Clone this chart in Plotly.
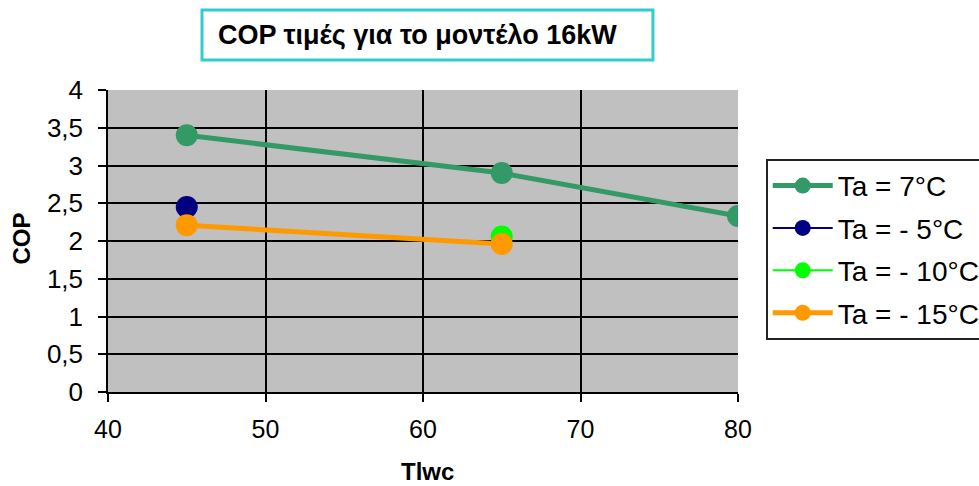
import plotly.graph_objects as go

# Data
series_names = ["Ta = 7°C", "Ta = - 5°C", "Ta = - 10°C", "Ta = - 15°C"]
x_7 = [45, 65, 80]
y_7 = [3.40, 2.90, 2.33]
x_m5 = [45]
y_m5 = [2.45]
x_m10 = [65]
y_m10 = [2.06]
x_m15 = [45, 65]
y_m15 = [2.21, 1.96]
title_text = "COP τιμές για το μοντέλο 16kW"
x_title = "Tlwc"
y_title = "COP"

FONT = "Arial, Liberation Sans, sans-serif"

fig = go.Figure()
specs = [
    (x_7, y_7, "#339966", 5, 22),
    (x_m5, y_m5, "#000080", 2, 22),
    (x_m10, y_m10, "#00FF00", 2, 22),
    (x_m15, y_m15, "#FF9900", 5, 22),
]
for name, (xs, ys, col, lw, ms) in zip(series_names, specs):
    fig.add_trace(go.Scatter(
        x=xs, y=ys, name=name, mode="lines+markers",
        line=dict(color=col, width=lw),
        marker=dict(color=col, size=ms),
        legendgroup=name,
    ))

fig.update_layout(
    width=979, height=486,
    margin=dict(l=108, r=241, t=90, b=94, autoexpand=False),
    paper_bgcolor="white",
    plot_bgcolor="#C0C0C0",
    separators=", ",
    font=dict(family=FONT, size=24, color="black"),
    showlegend=True,
    legend=dict(
        x=1.044, y=0.772, xanchor="left", yanchor="top",
        bordercolor="#222222", borderwidth=2,
        font=dict(family=FONT, size=28, color="black"),
        itemwidth=60, tracegroupgap=3,
        bgcolor="white",
    ),
    xaxis=dict(
        range=[40, 80], dtick=10, tick0=40,
        showgrid=True, gridcolor="black", gridwidth=1.5,
        showline=True, linecolor="black", linewidth=1.5,
        ticks="outside", ticklen=8, tickcolor="black", tickwidth=1.5,
        tickfont=dict(family=FONT, size=25, color="black"),
        ticklabelstandoff=6,
        zeroline=False,
    ),
    yaxis=dict(
        range=[0, 4], dtick=0.5, tick0=0,
        showgrid=True, gridcolor="black", gridwidth=1.5,
        showline=True, linecolor="black", linewidth=1.5,
        ticks="outside", ticklen=8, tickcolor="black", tickwidth=1.5,
        tickfont=dict(family=FONT, size=26, color="black"),
        ticklabelstandoff=10,
        zeroline=False,
    ),
    shapes=[
        dict(type="rect", xref="paper", yref="paper",
             x0=0.1492, x1=0.865, y0=1.0993, y1=1.2649,
             line=dict(color="#33CCCC", width=3), fillcolor="white",
             layer="above"),
    ],
    annotations=[
        dict(text="<b>" + title_text + "</b>", xref="paper", yref="paper",
             x=0.4913, y=1.182, xanchor="center", yanchor="middle",
             showarrow=False, font=dict(family=FONT, size=27, color="black")),
        dict(text="<b>" + x_title + "</b>", xref="paper", yref="paper",
             x=0.507, y=-0.262, xanchor="center", yanchor="middle",
             showarrow=False, font=dict(family=FONT, size=24, color="black")),
        dict(text="<b>" + y_title + "</b>", xref="paper", yref="paper",
             x=-0.1365, y=0.508, xanchor="center", yanchor="middle",
             textangle=-90,
             showarrow=False, font=dict(family=FONT, size=24, color="black")),
    ],
)

fig.write_html("out.html")
